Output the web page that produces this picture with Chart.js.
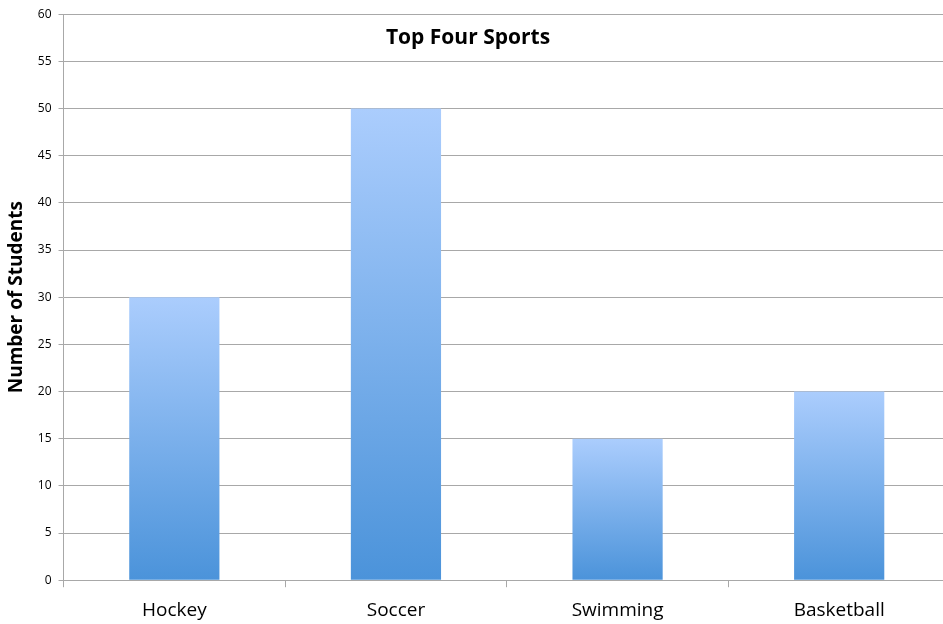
<!DOCTYPE html>
<html>
<head>
<meta charset="utf-8">
<script src="https://cdn.jsdelivr.net/npm/chart.js@4/dist/chart.umd.min.js"></script>
<style>
    html, body { margin: 0; padding: 0; background: #fff; overflow: hidden; }
    #chart { display: block; }
</style>
</head>
<body>
<!-- the plot runs a few pixels past the window edges, as in the source -->
<canvas id="chart" width="950" height="636"></canvas>
<script>
const sports = ["Hockey", "Soccer", "Swimming", "Basketball"];
const students = [30, 50, 15, 20];
const yTicks = [0, 5, 10, 15, 20, 25, 30, 35, 40, 45, 50, 55, 60];
const chartTitle = "Top Four Sports";
const yTitle = "Number of Students";

const fontFamily = "'Open Sans', Lato, sans-serif";
const gridColor = "#a8a8a8";

// each bar gets its own light-to-dark fill, like the office chart
function barFill(context) {
    const chart = context.chart;
    const y = chart.scales.y;
    if (!y || context.dataIndex === undefined) {
        return "#7aaee8";
    }
    const top = y.getPixelForValue(students[context.dataIndex]);
    const base = y.getPixelForValue(0);
    if (!isFinite(top) || !isFinite(base) || top === base) {
        return "#7aaee8";
    }
    const gradient = chart.ctx.createLinearGradient(0, top, 0, base);
    gradient.addColorStop(0, "#abcdfd");
    gradient.addColorStop(1, "#4b93da");
    return gradient;
}

const titleInside = {
    id: "titleInside",
    afterDraw(chart) {
        const ctx = chart.ctx;
        ctx.save();
        ctx.font = `bold 21px ${fontFamily}`;
        ctx.fillStyle = "#000";
        ctx.textAlign = "center";
        ctx.textBaseline = "middle";
        ctx.fillText(chartTitle, 468, 38);
        ctx.restore();
    }
};

new Chart(document.getElementById("chart").getContext("2d"), {
    type: "bar",
    data: {
        labels: sports,
        datasets: [{
            data: students,
            backgroundColor: barFill,
            borderWidth: 0,
            categoryPercentage: 1,
            barPercentage: 0.407
        }]
    },
    options: {
        responsive: false,
        animation: false,
        layout: {padding: {top: 6, right: 0, left: 5, bottom: 2}},
        plugins: {
            legend: {display: false},
            tooltip: {enabled: false}
        },
        scales: {
            x: {
                grid: {
                    offset: true,
                    drawOnChartArea: false,
                    color: gridColor,
                    tickLength: 7
                },
                border: {color: gridColor},
                ticks: {
                    color: "#000",
                    font: {family: fontFamily, size: 19},
                    padding: 12
                }
            },
            y: {
                min: 0,
                max: 60,
                afterBuildTicks(axis) {
                    axis.ticks = yTicks.map((value) => ({value}));
                },
                grid: {color: gridColor, tickLength: 5},
                border: {color: gridColor},
                ticks: {
                    color: "#000",
                    font: {family: fontFamily, size: 12},
                    padding: 7
                },
                title: {
                    display: true,
                    text: yTitle,
                    color: "#000",
                    font: {family: fontFamily, size: 19, weight: "bold"},
                    padding: {top: 0, bottom: 3}
                }
            }
        }
    },
    plugins: [titleInside]
});
</script>
</body>
</html>
